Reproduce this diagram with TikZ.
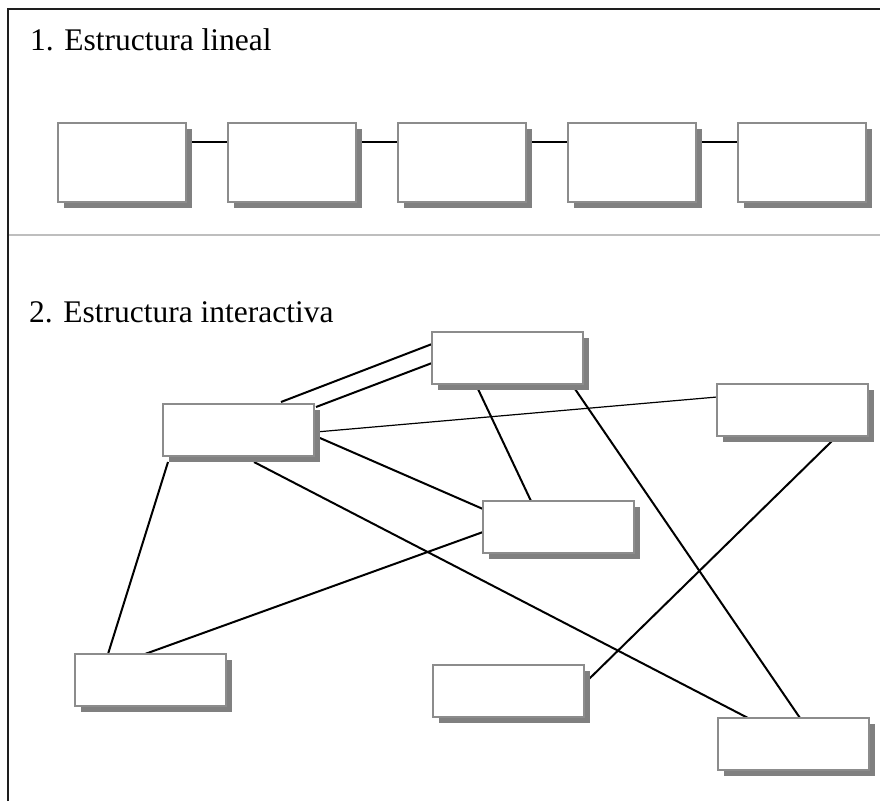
\documentclass[tikz,border=0pt]{standalone}
\usepackage{fontspec}
\setmainfont{Liberation Serif}
\usetikzlibrary{shadows,calc,backgrounds}
\definecolor{boxline}{RGB}{140,140,140}
\definecolor{boxshadow}{RGB}{128,128,128}
\definecolor{frameline}{RGB}{30,30,30}
\definecolor{sepline}{RGB}{190,190,190}
\tikzset{
  card/.style={draw=boxline, line width=1.8pt, fill=white, inner sep=0pt, outer sep=0pt,
    anchor=north west,
    drop shadow={shadow xshift=6pt, shadow yshift=-6pt, fill=boxshadow, opacity=1}},
  wide/.style={card, minimum width=128pt, minimum height=79pt},
  flat/.style={card, minimum width=151pt, minimum height=52pt},
  link/.style={draw=black, line width=2pt},
  thinlink/.style={draw=black, line width=1.2pt},
  heading/.style={anchor=base west, inner sep=0pt, font=\fontsize{31.5}{37}\selectfont}
}
\begin{document}
\begin{tikzpicture}[x=1pt, y=-1pt]
\useasboundingbox (0,0) rectangle (880,801);

% outer frame and section divider
\draw[frameline, line width=2.2pt] (8,801) -- (8,9) -- (880,9);
\draw[sepline, line width=1.4pt] (9,235) -- (880,235);

% headings
\node[heading] (t1) at (30,50) {1. Estructura lineal};
\node[heading] (t2) at (29,322) {2. Estructura interactiva};

% linear structure
\node[wide] (L1) at (58,123) {};
\node[wide] (L2) at (228,123) {};
\node[wide] (L3) at (398,123) {};
\node[wide] (L4) at (568,123) {};
\node[wide] (L5) at (738,123) {};

% interactive structure
\node[flat] (A) at (432,332) {};
\node[flat] (B) at (163,404) {};
\node[flat] (C) at (717,384) {};
\node[flat] (D) at (483,501) {};
\node[flat] (E) at (75,654) {};
\node[flat] (F) at (433,665) {};
\node[flat] (G) at (718,718) {};

\begin{scope}[on background layer]
  \foreach \a/\b in {L1/L2, L2/L3, L3/L4, L4/L5}
    \draw[link] ($(\a.north east)+(0,19)$) -- ($(\b.north west)+(0,19)$);

  \draw[link] ($(B.north west)+(118,-2)$) -- ($(A.north west)+(0,12)$);
  \draw[link] ($(B.north west)+(153,3)$) -- ($(A.north west)+(0,31)$);
  \draw[thinlink] ($(B.north west)+(153,28)$) -- ($(C.north west)+(0,13)$);
  \draw[link] ($(B.north west)+(157,34)$) -- ($(D.north west)+(0,8)$);
  \draw[link] ($(A.north west)+(46,57)$) -- ($(D.north west)+(48,0)$);
  \draw[link] ($(A.north west)+(143,57)$) -- ($(G.north west)+(82,0)$);
  \draw[link] ($(B.north west)+(91,58)$) -- ($(G.north west)+(30,0)$);
  \draw[link] ($(B.north west)+(5,58)$) -- ($(E.north west)+(33,0)$);
  \draw[link] ($(D.north west)+(0,31)$) -- ($(E.north west)+(70,0)$);
  \draw[link] ($(C.north west)+(115,57)$) -- ($(F.north west)+(156,14)$);
\end{scope}
\end{tikzpicture}
\end{document}
